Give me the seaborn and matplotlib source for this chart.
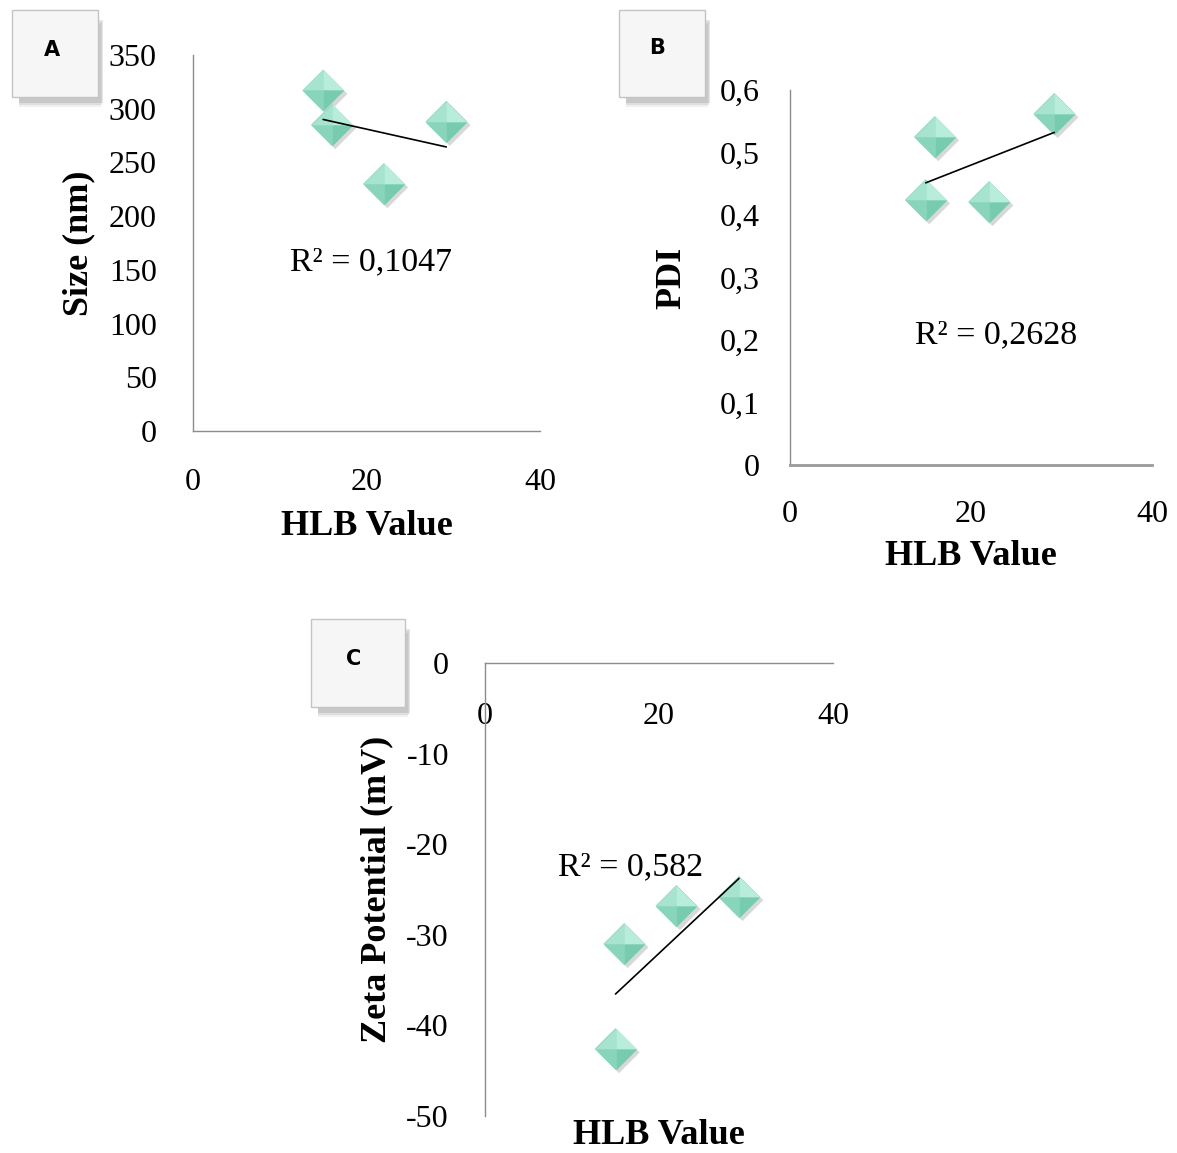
import numpy as np
import pandas as pd
import seaborn as sns
import matplotlib.pyplot as plt
import matplotlib.patheffects as pe
from matplotlib.patches import Rectangle

# values
hlb = [15.0, 16.0, 22.0, 29.2]
size_nm = [317, 285, 230, 288]
pdi = [0.424, 0.525, 0.421, 0.562]
zeta = [-42.6, -31.0, -26.8, -25.8]

hlb_ticks = [0, 20, 40]
size_ticks = [0, 50, 100, 150, 200, 250, 300, 350]
pdi_ticks = [0, 0.1, 0.2, 0.3, 0.4, 0.5, 0.6]
pdi_labels = ['0', '0,1', '0,2', '0,3', '0,4', '0,5', '0,6']
zeta_ticks = [0, -10, -20, -30, -40, -50]

r2_text = ['R² = 0,1047', 'R² = 0,2628', 'R² = 0,582']
panel_names = ['A', 'B', 'C']

df = pd.DataFrame({'HLB': hlb, 'Size': size_nm, 'PDI': pdi, 'Zeta': zeta})

sns.set_theme(style='white')
plt.rcParams['font.family'] = ['Liberation Serif', 'DejaVu Serif']
plt.rcParams['text.color'] = 'black'
plt.rcParams['axes.labelcolor'] = 'black'

W, H = 1177, 1153
fig = plt.figure(figsize=(W / 100, H / 100), dpi=100)


def px_axes(left, top, right, bottom):
    return fig.add_axes([left / W, 1 - bottom / H, (right - left) / W, (bottom - top) / H])


# diamond marker split in four facets to get the bevelled look
diamond = np.array([(0, 1), (1, 0), (0, -1), (-1, 0)])
facets = [
    (np.array([(0, 0), (-1, 0), (0, 1)]), '#a6e4cf'),
    (np.array([(0, 0), (0, 1), (1, 0)]), '#b8ecdb'),
    (np.array([(0, 0), (1, 0), (0, -1)]), '#77cbae'),
    (np.array([(0, 0), (0, -1), (-1, 0)]), '#88d5bb'),
]
msize = 900


def draw_points(ax, ycol):
    sns.scatterplot(data=df, x='HLB', y=ycol, marker=diamond, s=msize, color='#8fdac0',
                    linewidth=0, legend=False, ax=ax,
                    path_effects=[pe.SimplePatchShadow(offset=(2.5, -2.5), shadow_rgbFace='#666666', alpha=0.25),
                                  pe.Normal()])
    for verts, col in facets:
        sns.scatterplot(data=df, x='HLB', y=ycol, marker=verts, s=msize, color=col,
                        linewidth=0, legend=False, ax=ax)
    sns.regplot(data=df, x='HLB', y=ycol, scatter=False, ci=None, truncate=True,
                color='black', line_kws={'lw': 1.2, 'zorder': 5}, ax=ax)


def style_axes(ax):
    for s in ['top', 'right']:
        ax.spines[s].set_visible(False)
    for s in ['left', 'bottom']:
        ax.spines[s].set_color('#8c8c8c')
        ax.spines[s].set_linewidth(1.0)
    ax.tick_params(axis='both', length=0, labelsize=23, colors='black')
    ax.set_xlim(0, 40)
    ax.set_xticks(hlb_ticks)
    ax.set_xticklabels([str(t) for t in hlb_ticks])


lab_font = dict(fontsize=26, fontweight='bold', color='black')

# ---- A : size ----
axA = px_axes(193, 55, 540, 431)
draw_points(axA, 'Size')
style_axes(axA)
axA.set_ylim(0, 350)
axA.set_yticks(size_ticks)
axA.set_yticklabels([str(t) for t in size_ticks])
axA.tick_params(axis='y', pad=26)
axA.tick_params(axis='x', pad=27)
axA.set_ylabel('Size (nm)', va='center', **lab_font)
axA.set_xlabel('HLB Value', va='center', **lab_font)
axA.yaxis.set_label_coords(-0.329, 0.5)
axA.xaxis.set_label_coords(0.5, -0.255)
axA.text(20.5, 157, r2_text[0], fontsize=24.5, ha='center', va='center')

# ---- B : PDI ----
axB = px_axes(790, 90, 1152, 465)
draw_points(axB, 'PDI')
style_axes(axB)
axB.spines['bottom'].set_linewidth(2.0)
axB.spines['bottom'].set_color('#999999')
axB.set_ylim(0, 0.6)
axB.set_yticks(pdi_ticks)
axB.set_yticklabels(pdi_labels)
axB.tick_params(axis='y', pad=22)
axB.tick_params(axis='x', pad=25)
axB.set_ylabel('PDI', va='center', **lab_font)
axB.set_xlabel('HLB Value', va='center', **lab_font)
axB.yaxis.set_label_coords(-0.326, 0.5)
axB.xaxis.set_label_coords(0.5, -0.245)
axB.text(22.8, 0.208, r2_text[1], fontsize=24.5, ha='center', va='center')

# ---- C : zeta potential ----
axC = px_axes(485, 663, 833, 1116)
draw_points(axC, 'Zeta')
style_axes(axC)
axC.set_ylim(-50, 0)
axC.spines['bottom'].set_position(('data', 0))
axC.set_yticks(zeta_ticks)
axC.set_yticklabels([str(t) for t in zeta_ticks])
axC.tick_params(axis='y', pad=26)
axC.tick_params(axis='x', pad=28)
axC.set_ylabel('Zeta Potential (mV)', va='center', **lab_font)
axC.set_xlabel('HLB Value', va='center', **lab_font)
axC.yaxis.set_label_coords(-0.31, 0.5)
axC.xaxis.set_label_coords(0.5, -0.042)
axC.text(16.7, -22.5, r2_text[2], fontsize=24.5, ha='center', va='center')

# ---- panel letter boxes ----
boxes = [(12, 10, 98, 97), (619, 10, 705, 97), (311, 619, 405, 707)]
letter_pos = [(52, 50), (657, 48), (354, 659)]
for (x0, y0, x1, y1), (lx, ly), name in zip(boxes, letter_pos, panel_names):
    for k, a in enumerate([0.08, 0.10, 0.14]):
        off = 10 - 2 * k
        fig.add_artist(Rectangle(((x0 + 7) / W, 1 - (y1 + off) / H), (x1 - x0 - 4 + k) / W,
                                 (y1 - y0 - 4) / H, transform=fig.transFigure,
                                 facecolor='#444444', edgecolor='none', alpha=a))
    fig.add_artist(Rectangle((x0 / W, 1 - y1 / H), (x1 - x0) / W, (y1 - y0) / H,
                             transform=fig.transFigure, facecolor='#f6f6f6',
                             edgecolor='#c4c4c4', linewidth=1.0))
    fig.text(lx / W, 1 - ly / H, name, ha='center', va='center', fontsize=15,
             fontweight='bold', family=['DejaVu Sans'], color='black')

fig.savefig('out.png', dpi=100)
